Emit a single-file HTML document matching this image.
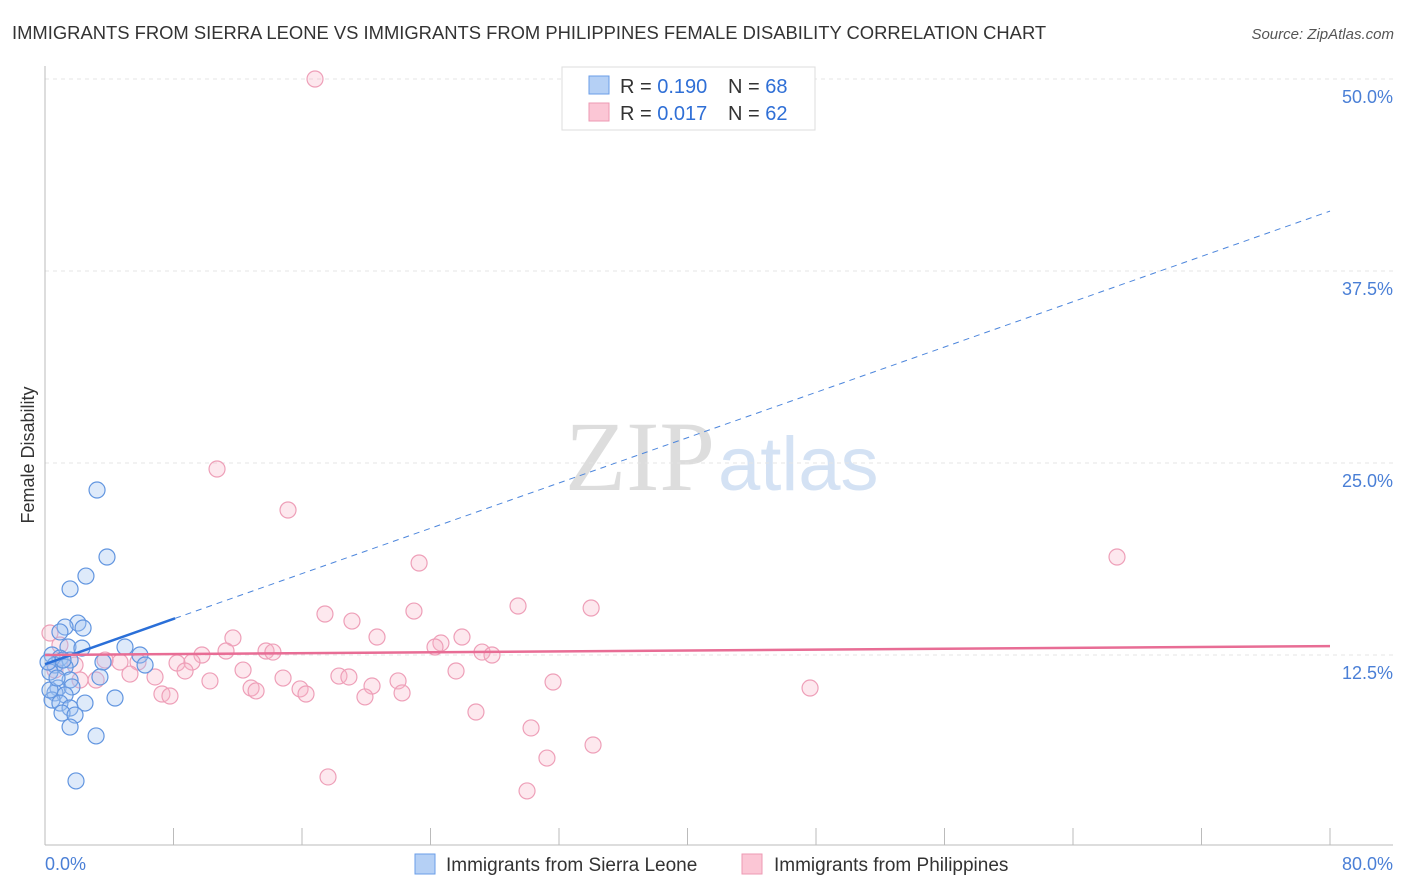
<!DOCTYPE html>
<html><head><meta charset="utf-8"><style>
body{margin:0;background:#fff;font-family:"Liberation Sans",sans-serif;}
#c{position:relative;width:1406px;height:892px;overflow:hidden}
</style></head><body>
<div id="c">
<svg id="s" width="1406" height="892" xmlns="http://www.w3.org/2000/svg">
<text x="12" y="39" font-size="18.4" fill="#333">IMMIGRANTS FROM SIERRA LEONE VS IMMIGRANTS FROM PHILIPPINES FEMALE DISABILITY CORRELATION CHART</text>
<text x="1394" y="39" font-size="15" fill="#555" font-style="italic" text-anchor="end">Source: ZipAtlas.com</text>
<text x="34" y="455" font-size="18" fill="#333" transform="rotate(-90 34 455)" text-anchor="middle">Female Disability</text>
<text x="715" y="490" font-size="100" fill="#ddd" text-anchor="end" font-family="Liberation Serif">ZIP</text>
<text x="718" y="490" font-size="76" fill="#d4e2f4">atlas</text>
<g id="grid"></g><g id="axes"></g><g id="pts"></g><g id="trend"></g>
<g>
<rect x="562" y="67" width="253" height="63" fill="#fff" stroke="#ddd"/>
<rect x="589" y="76" width="20" height="18" fill="#b5d0f5" stroke="#6a9ee8"/>
<rect x="589" y="103" width="20" height="18" fill="#fbc6d5" stroke="#ee99b3"/>
<text x="620" y="93" font-size="20" fill="#333">R = <tspan fill="#2f6fd6">0.190</tspan></text>
<text x="728" y="93" font-size="20" fill="#333">N = <tspan fill="#2f6fd6">68</tspan></text>
<text x="620" y="120" font-size="20" fill="#333">R = <tspan fill="#2f6fd6">0.017</tspan></text>
<text x="728" y="120" font-size="20" fill="#333">N = <tspan fill="#2f6fd6">62</tspan></text>
</g>
<rect x="415" y="854" width="20" height="20" fill="#b5d0f5" stroke="#6a9ee8"/>
<text x="446" y="871" font-size="19" fill="#333">Immigrants from Sierra Leone</text>
<rect x="742" y="854" width="20" height="20" fill="#fbc6d5" stroke="#ee99b3"/>
<text x="774" y="871" font-size="19" fill="#333">Immigrants from Philippines</text>
<text x="45" y="870" font-size="18" fill="#4a7fd6">0.0%</text>
<text x="1393" y="870" font-size="18" fill="#4a7fd6" text-anchor="end">80.0%</text>
</svg></div>
<script>
const yTicks=[12.5,25,37.5,50];
const yTickLabels=["12.5%","25.0%","37.5%","50.0%"];
const blueX=[3.24,3.86,2.55,1.56,2.05,1.25,2.37,0.93,4.98,1.43,2.30,5.91,0.44,0.93,1.56,6.23,3.61,0.62,1.25,0.31,3.42,1.56,0.81,1.68,0.62,1.25,4.36,0.44,0.93,2.49,1.56,1.06,1.87,1.56,3.18,1.93,0.19,0.31,0.75,1.12];
const blueY=[23.24,18.88,17.64,16.80,14.58,14.32,14.26,14.00,13.02,13.02,12.95,12.50,12.50,12.30,12.17,11.85,12.04,11.85,11.72,11.39,11.07,10.87,10.35,10.42,10.03,9.90,9.70,9.57,9.37,9.37,9.05,8.72,8.59,7.81,7.23,4.30,12.04,10.22,11.00,12.17];
const pinkX=[16.81,10.71,15.13,66.74,23.29,29.45,34.0,22.97,17.43,19.11,11.70,20.67,25.96,24.65,24.28,13.76,14.19,11.27,9.77,27.21,27.83,5.79,8.22,9.15,4.67,25.59,8.72,12.33,5.29,6.85,18.30,18.92,14.82,2.18,3.18,10.27,21.98,31.63,20.36,12.83,13.14,15.88,47.63,22.23,16.25,7.28,7.78,19.92,26.83,30.26,34.12,17.62,31.25,30.01,0.31,0.93,0.62,1.87,3.74];
const pinkY=[50.0,24.61,21.94,18.88,18.49,15.69,15.56,15.36,15.17,14.71,13.61,13.67,13.67,13.28,13.02,12.76,12.69,12.76,12.50,12.69,12.50,12.04,11.98,12.04,12.04,11.46,11.46,11.52,11.26,11.07,11.13,11.07,11.00,10.87,10.87,10.81,10.81,10.74,10.48,10.35,10.16,10.29,10.35,10.03,9.96,9.96,9.83,9.77,8.79,7.75,6.64,4.56,5.79,3.65,13.93,13.15,11.52,11.85,12.17];
const blueTrend=[11.9,41.4];
const pinkTrend=[12.5,13.08];
const NS="http://www.w3.org/2000/svg";
const xs=v=>45+v/80*1285, ys=v=>847-v*15.36;
function mk(t,a,p){const e=document.createElementNS(NS,t);for(const k in a)e.setAttribute(k,a[k]);document.getElementById(p).appendChild(e);return e;}
yTicks.forEach((t,i)=>{
 const l=mk('line',{x1:45,x2:1393,y1:ys(t),y2:ys(t),stroke:'#e4e4e4','stroke-dasharray':'4 4'},'grid');
 
 
 const tx=mk('text',{x:1393,y:ys(t)+24,'font-size':18,fill:'#4a7fd6','text-anchor':'end'},'grid');
 tx.textContent=yTickLabels[i];
 
 
});
const ax=mk('line',{x1:45,x2:45,y1:66,y2:845,stroke:'#bbb'},'axes');


const bx=mk('line',{x1:45,x2:1393,y1:845,y2:845,stroke:'#bbb'},'axes');


for(let i=1;i<=10;i++){const t=mk('line',{x1:xs(i*8),x2:xs(i*8),y1:828,y2:845,stroke:'#bbb'},'axes');
 
 }
pinkX.forEach((v,i)=>{const c=mk('circle',{cx:xs(v),cy:ys(pinkY[i]),r:8,fill:'rgba(248,180,200,0.3)',stroke:'#ee9fb8','stroke-width':1.2},'pts');
 
 });
blueX.forEach((v,i)=>{const c=mk('circle',{cx:xs(v),cy:ys(blueY[i]),r:8,fill:'rgba(160,195,240,0.35)',stroke:'#6195e0','stroke-width':1.2},'pts');
 
 });
const bs=v=>blueTrend[0]+(blueTrend[1]-blueTrend[0])*v/80;
const d=mk('line',{x1:xs(8.1),y1:ys(bs(8.1)),x2:xs(80),y2:ys(bs(80)),stroke:'#4d86dc','stroke-width':1,'stroke-dasharray':'6 5'},'trend');


const s=mk('line',{x1:xs(0),y1:ys(bs(0)),x2:xs(8.1),y2:ys(bs(8.1)),stroke:'#2a6fd8','stroke-width':2.5},'trend');


const p=mk('line',{x1:xs(0),y1:ys(pinkTrend[0]),x2:xs(80),y2:ys(pinkTrend[1]),stroke:'#e86d95','stroke-width':2.5},'trend');


</script>
</body></html>
